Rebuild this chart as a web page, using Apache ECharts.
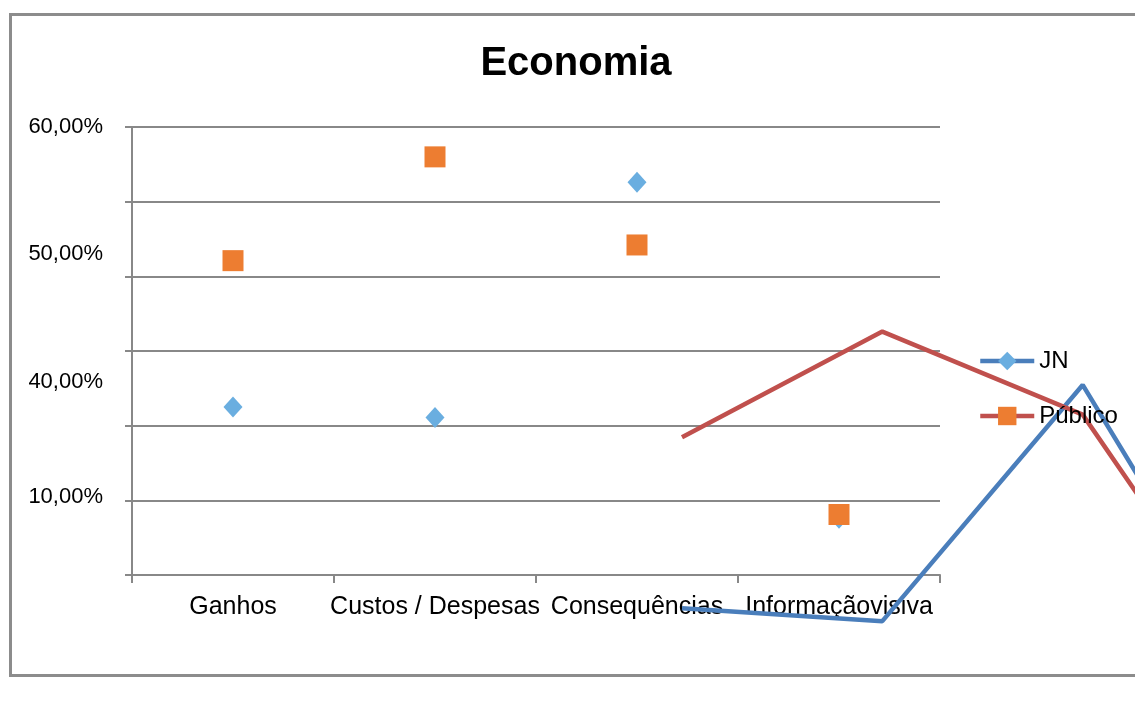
<!DOCTYPE html>
<html>
<head>
<meta charset="utf-8">
<title>Economia</title>
<script src="https://cdn.jsdelivr.net/npm/echarts@6/dist/echarts.min.js"></script>
<style>
  html, body { margin: 0; padding: 0; background: #fff; }
  #chart { width: 1135px; height: 709px; }
</style>
</head>
<body>
<div id="chart"></div>
<script>
const categories = ['Ganhos', 'Custos / Despesas', 'Consequências', 'Informaçãovisiva'];
// marcadores soltos (sem linha)
const jnPoints = [22.5, 21.1, 52.6, 7.6];
const publicoPoints = [42.1, 56.0, 44.2, 8.1];
// linhas deslocadas para a direita (escala própria)
const jnLine = [11.3, 10.0, 33.9, 0.5];
const publicoLine = [28.6, 39.3, 30.9, 1.4];
// rótulos do eixo Y, tal como aparecem
const yTickValues = [60, 43.0, 25.9, 10.4];
const yTickLabels = ['60,00%', '50,00%', '40,00%', '10,00%'];

const font = "'Liberation Sans', Arial, sans-serif";
const gray = '#888';

const chart = echarts.init(document.getElementById('chart'));
const option = {
  animation: false,
  backgroundColor: '#fff',
  textStyle: { fontFamily: font },
  title: {
    text: 'Economia',
    left: 571,
    top: 39,
    textAlign: 'center',
    textStyle: { fontFamily: font, fontSize: 40, fontWeight: 'bold', color: '#000', lineHeight: 40 }
  },
  graphic: [{
    type: 'rect',
    silent: true,
    shape: { x: 10.5, y: 14.5, width: 1140, height: 661 },
    style: { fill: 'none', stroke: '#8c8c8c', lineWidth: 3 }
  }],
  legend: {
    orient: 'vertical',
    left: 978,
    top: 349,
    padding: 0,
    itemWidth: 54,
    itemHeight: 23,
    itemGap: 31,
    data: ['JN', 'Público'],
    lineStyle: { width: 4.5 },
    itemStyle: { opacity: 1 },
    textStyle: { fontFamily: font, fontSize: 24, lineHeight: 23, color: '#000' }
  },
  grid: [
    { left: 132, right: 195, top: 127, bottom: 134, outerBoundsMode: 'none' },
    { left: 682, right: -148, top: 127, bottom: -11, outerBoundsMode: 'none' }
  ],
  xAxis: [
    {
      type: 'category',
      gridIndex: 0,
      data: categories,
      axisLine: { lineStyle: { color: gray, width: 2 } },
      axisTick: { show: true, length: 8, lineStyle: { color: gray, width: 2 } },
      axisLabel: { interval: 0, margin: 20, fontSize: 25, lineHeight: 25, color: '#000', fontFamily: font },
      splitLine: { show: false }
    },
    {
      type: 'category',
      gridIndex: 1,
      data: categories,
      boundaryGap: false,
      show: false
    }
  ],
  yAxis: [
    {
      type: 'value',
      gridIndex: 0,
      min: 0,
      max: 60,
      interval: 10,
      axisLine: { show: true, lineStyle: { color: gray, width: 2 } },
      axisTick: { show: true, length: 7, lineStyle: { color: gray, width: 2 } },
      splitLine: { show: true, lineStyle: { color: gray, width: 2 } },
      axisLabel: {
        customValues: yTickValues,
        margin: 29,
        fontSize: 22,
        color: '#000',
        fontFamily: font,
        formatter: function (v) {
          for (let i = 0; i < yTickValues.length; i++) {
            if (Math.abs(yTickValues[i] - v) < 0.01) return yTickLabels[i];
          }
          return '';
        }
      }
    },
    {
      type: 'value',
      gridIndex: 1,
      min: 0,
      max: 60,
      show: false,
      splitLine: { show: false }
    }
  ],
  series: [
    {
      name: 'JN',
      type: 'line',
      xAxisIndex: 1,
      yAxisIndex: 1,
      data: jnLine,
      symbol: 'diamond',
      showSymbol: false,
      clip: false,
      z: 1,
      itemStyle: { color: '#6aaee0', opacity: 1 },
      lineStyle: { color: '#4a7ebb', width: 4.5 }
    },
    {
      name: 'Público',
      type: 'line',
      xAxisIndex: 1,
      yAxisIndex: 1,
      data: publicoLine,
      symbol: 'rect',
      showSymbol: false,
      clip: false,
      z: 1,
      itemStyle: { color: '#ed7d31', opacity: 1 },
      lineStyle: { color: '#c0504d', width: 4.5 }
    },
    {
      name: 'JN',
      type: 'scatter',
      data: jnPoints,
      symbol: 'diamond',
      symbolSize: [19, 21],
      itemStyle: { color: '#6aaee0', opacity: 1 }
    },
    {
      name: 'Público',
      type: 'scatter',
      data: publicoPoints,
      symbol: 'rect',
      symbolSize: 21,
      itemStyle: { color: '#ed7d31', opacity: 1 }
    }
  ]
};
chart.setOption(option);
</script>
</body>
</html>
